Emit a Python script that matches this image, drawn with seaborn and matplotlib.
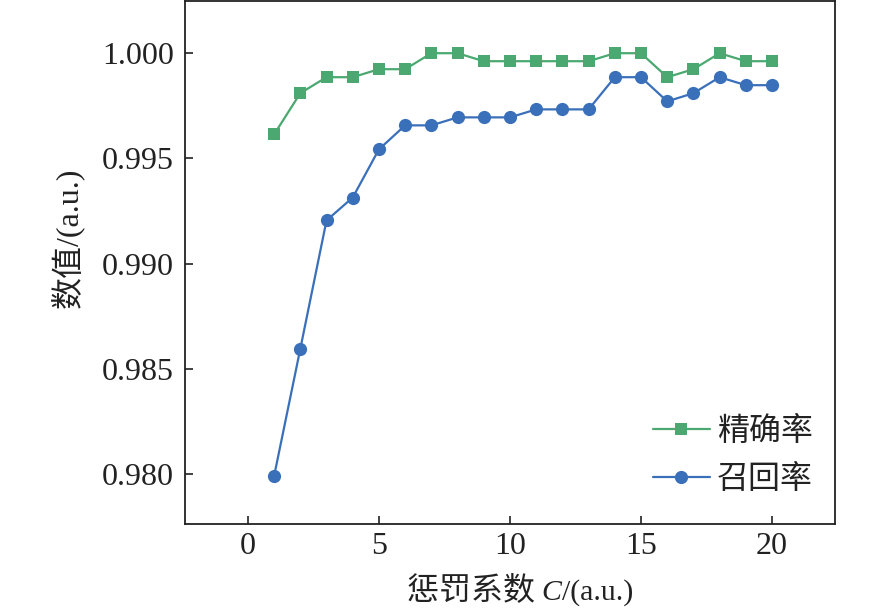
import matplotlib
matplotlib.use("Agg")
import matplotlib.pyplot as plt
import seaborn as sns
import pandas as pd
from matplotlib.offsetbox import TextArea, HPacker, AnchoredOffsetbox

C_values = list(range(1, 21))
precision = [0.99614, 0.99810, 0.99886, 0.99886, 0.99924, 0.99924, 1.00000, 1.00000,
             0.99962, 0.99962, 0.99962, 0.99962, 0.99962, 1.00000, 1.00000, 0.99886,
             0.99924, 1.00000, 0.99962, 0.99962]
recall = [0.97990, 0.98595, 0.99205, 0.99314, 0.99543, 0.99657, 0.99657, 0.99695,
          0.99695, 0.99695, 0.99733, 0.99733, 0.99733, 0.99886, 0.99886, 0.99771,
          0.99810, 0.99886, 0.99848, 0.99848]
series_names = ["精确率", "召回率"]
x_ticks = [0, 5, 10, 15, 20]
y_ticks = [0.980, 0.985, 0.990, 0.995, 1.000]

sns.set_style("ticks")
plt.rcParams['font.family'] = ['Liberation Serif', 'Noto Sans CJK SC', 'DejaVu Sans']

df = pd.DataFrame({
    "C": C_values * 2,
    "value": precision + recall,
    "series": [series_names[0]] * len(C_values) + [series_names[1]] * len(C_values),
})

fig = plt.figure(figsize=(8.86, 6.12), dpi=100)
ax = fig.add_axes([0.2088, 0.1438, 0.7336, 0.8545])

palette = {series_names[0]: "#4aa870", series_names[1]: "#3a6fb9"}
sns.lineplot(data=df, x="C", y="value", hue="series", style="series",
             markers={series_names[0]: "s", series_names[1]: "o"}, dashes=False,
             palette=palette, ax=ax, linewidth=1.6, markersize=8, markeredgewidth=0)

ax.set_xlim(-2.4, 22.4)
ax.set_ylim(0.97762, 1.00248)
ax.set_xticks(x_ticks)
ax.set_yticks(y_ticks)
ax.set_yticklabels([f"{v:.3f}" for v in y_ticks])
ax.tick_params(direction="in", length=6, width=1.2, labelsize=23, colors="#222222")
ax.tick_params(axis="y", pad=8)
ax.tick_params(axis="x", pad=6)
for s in ax.spines.values():
    s.set_linewidth(1.3)
    s.set_color("#222222")

# x label built from pieces so that C is italic serif
ax.set_xlabel("")
cjk = ['Noto Sans CJK SC', 'DejaVu Sans']
parts = [
    TextArea("惩罚系数 ", textprops=dict(family=cjk, size=23, color="#222222")),
    TextArea("C", textprops=dict(family='Liberation Serif', style='italic', size=21.5, color="#222222")),
    TextArea("/(a.u.)", textprops=dict(family='Liberation Serif', size=21.5, color="#222222")),
]
box = HPacker(children=parts, align="baseline", pad=0, sep=0)
anch = AnchoredOffsetbox(loc="upper center", child=box, pad=0, borderpad=0, frameon=False,
                         bbox_to_anchor=(0.515, -0.097), bbox_transform=ax.transAxes)
ax.add_artist(anch)

ax.set_ylabel("数值/(a.u.)", fontsize=23, color="#222222")
ax.yaxis.set_label_coords(-0.154, 0.548)

leg = ax.legend(loc="lower right", frameon=False, fontsize=23, handlelength=1.8,
                borderaxespad=0.3, labelspacing=0.5, handletextpad=0.2,
                bbox_to_anchor=(1.0, 0.012))
for t in leg.get_texts():
    t.set_family(cjk)
    t.set_color("#222222")

for ln in list(ax.lines) + list(leg.legend_handles):
    if hasattr(ln, "get_marker") and ln.get_marker() == "o":
        ln.set_markersize(9.5)

fig.savefig("out.png", dpi=100)
